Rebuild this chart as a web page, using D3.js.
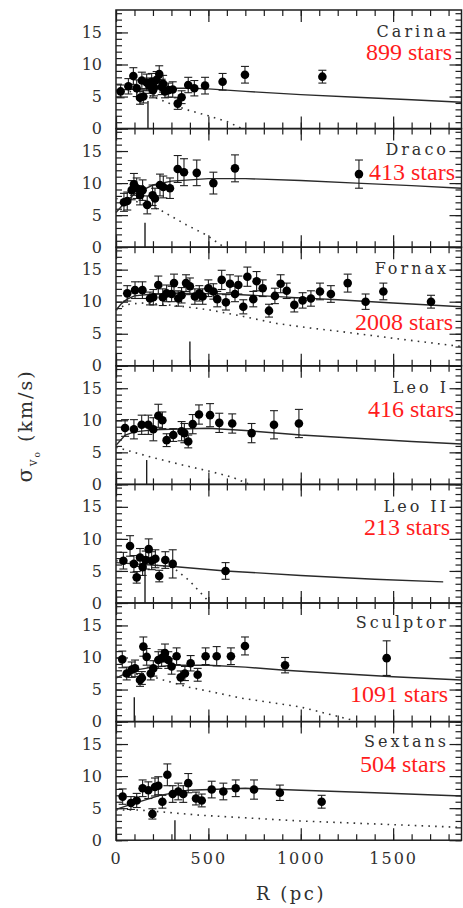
<!DOCTYPE html>
<html><head><meta charset="utf-8">
<script src="https://cdn.jsdelivr.net/npm/d3@7"></script>
<style>html,body{margin:0;padding:0;background:#fff;} svg{display:block;}</style>
</head><body>
<svg id="chart" width="463" height="908"></svg>
<script>
// ---------------- DATA ----------------
const galaxies = ["Carina", "Draco", "Fornax", "Leo I", "Leo II", "Sculptor", "Sextans"];
const starLabels = ["899 stars", "413 stars", "2008 stars", "416 stars", "213 stars", "1091 stars", "504 stars"];
const xTickValues = [0, 500, 1000, 1500];
const yTickValues = [0, 5, 10, 15];

// Carina
const carinaR     = [25, 67, 94, 112, 130, 140, 148, 166, 180, 193, 200, 206, 220, 234, 247, 255, 265, 283, 307, 334, 355, 391, 424, 482, 577, 698, 1117];
const carinaSigma = [5.8, 6.6, 8.2, 6.3, 4.8, 7.5, 5.0, 7.2, 6.7, 7.3, 6.0, 6.4, 7.6, 8.5, 6.5, 7.0, 5.8, 6.0, 6.1, 3.9, 4.9, 6.8, 6.3, 6.7, 7.3, 8.4, 8.1];
const carinaErr   = [1.0, 1.2, 1.3, 1.3, 1.0, 1.3, 1.0, 1.3, 1.2, 1.3, 1.2, 1.3, 1.3, 1.3, 1.2, 1.3, 1.0, 1.1, 1.2, 0.9, 1.0, 1.2, 1.2, 1.3, 1.3, 1.3, 1.0];
const carinaModelR = [0, 200, 400, 500, 700, 1000, 1300, 1600, 1870];
const carinaModelSigma = [6.0, 6.3, 6.3, 6.2, 5.8, 5.3, 4.9, 4.5, 4.1];
const carinaDotR = [0, 100, 200, 300, 400, 500, 600, 675];
const carinaDotSigma = [6.0, 5.7, 5.0, 3.8, 2.8, 2.0, 1.1, 0.1];

// Draco
const dracoR     = [43, 61, 85, 97, 112, 130, 144, 169, 198, 211, 238, 256, 292, 334, 368, 437, 527, 644, 1315];
const dracoSigma = [7.0, 7.2, 8.9, 9.8, 9.2, 8.1, 8.9, 6.6, 8.1, 7.6, 9.7, 9.4, 9.2, 12.2, 11.7, 11.6, 10.0, 12.3, 11.4];
const dracoErr   = [1.4, 1.4, 1.5, 1.7, 1.6, 1.5, 1.6, 1.4, 1.6, 1.6, 1.7, 1.7, 1.6, 2.1, 2.1, 2.0, 1.7, 2.1, 2.2];
const dracoModelR = [0, 50, 100, 200, 300, 500, 700, 1000, 1300, 1600, 1870];
const dracoModelSigma = [5.4, 7.0, 8.3, 9.7, 10.3, 10.7, 10.7, 10.4, 10.0, 9.6, 9.2];
const dracoDotR = [0, 100, 170, 240, 380, 490, 580];
const dracoDotSigma = [7.6, 7.2, 6.6, 5.8, 3.5, 1.9, 0.1];

// Fornax
const fornaxR     = [61, 103, 143, 184, 202, 229, 253, 274, 301, 314, 337, 355, 379, 400, 427, 451, 469, 500, 527, 548, 572, 595, 617, 644, 662, 689, 711, 743, 761, 794, 828, 860, 891, 924, 965, 1010, 1055, 1104, 1163, 1254, 1351, 1447, 1705];
const fornaxSigma = [11.3, 11.8, 11.8, 10.5, 10.7, 12.6, 10.7, 11.3, 11.2, 12.9, 10.5, 11.0, 12.9, 12.4, 10.8, 11.3, 10.8, 12.1, 11.6, 10.4, 13.4, 9.9, 12.8, 11.2, 12.6, 9.2, 13.9, 10.4, 13.2, 12.1, 8.6, 10.9, 12.8, 11.7, 9.5, 10.2, 10.5, 11.6, 11.2, 12.9, 10.0, 11.6, 10.0];
const fornaxErr   = [1.2, 1.3, 1.3, 1.0, 1.2, 1.4, 1.3, 1.3, 1.2, 1.4, 1.2, 1.2, 1.3, 1.3, 1.2, 1.2, 1.2, 1.3, 1.2, 1.2, 1.5, 1.2, 1.4, 1.2, 1.4, 1.1, 1.5, 1.2, 1.5, 1.3, 1.0, 1.2, 1.4, 1.2, 1.1, 1.2, 1.2, 1.3, 1.3, 1.4, 1.2, 1.3, 1.0];
const fornaxModelR = [0, 30, 60, 100, 200, 400, 600, 800, 1000, 1200, 1500, 1870];
const fornaxModelSigma = [8.7, 9.7, 10.4, 10.9, 11.2, 11.3, 11.2, 10.9, 10.6, 10.3, 9.8, 9.2];
const fornaxDotR = [0, 50, 130, 250, 380, 510, 690, 870, 1050, 1200, 1500, 1870];
const fornaxDotSigma = [8.7, 9.5, 9.8, 9.6, 9.2, 8.7, 7.7, 6.6, 5.9, 5.4, 4.3, 3.0];

// Leo I
const leo1R     = [49, 97, 139, 175, 202, 229, 251, 274, 310, 355, 370, 391, 415, 449, 509, 559, 629, 734, 855, 990];
const leo1Sigma = [8.8, 8.6, 9.3, 9.3, 8.6, 10.7, 10.0, 6.9, 7.7, 8.3, 8.0, 6.7, 9.4, 10.9, 10.8, 9.6, 9.5, 8.0, 9.3, 9.5];
const leo1Err   = [1.3, 1.5, 1.5, 1.5, 1.8, 1.8, 1.3, 1.0, 1.0, 1.5, 1.5, 1.0, 1.5, 1.5, 1.8, 1.5, 1.5, 1.5, 2.2, 2.2];
const leo1ModelR = [0, 50, 100, 200, 300, 500, 700, 1000, 1300, 1600, 1870];
const leo1ModelSigma = [6.1, 7.7, 8.2, 8.5, 8.6, 8.75, 8.4, 7.7, 7.2, 6.7, 6.3];
const leo1DotR = [0, 184, 364, 500, 632, 715];
const leo1DotSigma = [5.8, 4.3, 3.0, 2.1, 1.1, 0.1];

// Leo II
const leo2R     = [40, 76, 97, 112, 130, 144, 161, 177, 193, 213, 234, 267, 307, 593];
const leo2Sigma = [6.6, 8.9, 6.1, 4.0, 7.1, 5.6, 6.7, 8.4, 6.6, 6.9, 4.2, 6.7, 6.1, 5.0];
const leo2Err   = [1.3, 1.6, 1.3, 0.9, 1.4, 1.3, 1.4, 1.6, 1.4, 1.4, 0.9, 1.3, 2.2, 1.3];
const leo2ModelR = [0, 310, 593, 1000, 1400, 1771];
const leo2ModelSigma = [6.3, 5.7, 5.0, 4.3, 3.7, 3.3];
const leo2DotR = [0, 150, 310, 400, 490];
const leo2DotSigma = [6.6, 6.2, 5.5, 3.4, 0.6];

// Sculptor
const sculptorR     = [34, 58, 85, 103, 130, 140, 148, 166, 188, 202, 229, 247, 265, 283, 301, 328, 350, 373, 404, 442, 485, 545, 622, 698, 915, 1465];
const sculptorSigma = [9.7, 7.5, 8.1, 8.3, 6.5, 6.8, 11.7, 10.1, 7.5, 8.3, 9.6, 9.9, 10.7, 9.6, 8.6, 10.2, 6.9, 7.5, 9.1, 7.3, 10.2, 10.2, 10.2, 11.8, 8.8, 9.9];
const sculptorErr   = [1.3, 1.0, 1.2, 1.3, 1.0, 1.0, 1.5, 1.3, 1.0, 1.2, 1.3, 1.3, 1.4, 1.3, 1.2, 1.3, 1.0, 1.1, 1.2, 1.0, 1.3, 1.5, 1.3, 1.4, 1.2, 2.7];
const sculptorModelR = [0, 50, 94, 200, 310, 500, 700, 915, 1200, 1500, 1870];
const sculptorModelSigma = [6.8, 7.5, 8.0, 8.5, 8.8, 8.8, 8.5, 8.0, 7.5, 7.0, 6.5];
const sculptorDotR = [0, 100, 180, 256, 389, 509, 689, 996, 1284];
const sculptorDotSigma = [7.0, 7.4, 7.2, 6.5, 5.4, 4.7, 3.6, 2.3, 0.2];

// Sextans
const sextansR     = [36, 81, 112, 144, 175, 197, 211, 229, 251, 278, 307, 337, 364, 391, 433, 464, 518, 581, 648, 747, 887, 1113];
const sextansSigma = [6.8, 5.8, 6.2, 8.1, 7.8, 4.1, 8.3, 8.5, 6.0, 10.2, 7.2, 7.6, 7.2, 8.9, 6.5, 6.2, 7.9, 7.6, 8.1, 7.9, 7.4, 6.0];
const sextansErr   = [1.2, 1.0, 1.1, 1.3, 1.3, 0.8, 1.4, 1.4, 1.0, 1.7, 1.3, 1.3, 1.3, 1.5, 1.0, 1.0, 1.3, 1.3, 1.3, 1.5, 1.2, 1.0];
const sextansModelR = [0, 81, 238, 391, 700, 1000, 1400, 1870];
const sextansModelSigma = [4.8, 5.6, 7.0, 7.8, 8.1, 7.8, 7.4, 6.9];
const sextansDotR = [0, 130, 455, 996, 1870];
const sextansDotSigma = [4.7, 4.7, 3.9, 3.0, 2.0];

// vertical marker lines (R, height)
const markerR = [173, 157, 400, 166, 157, 99, 319];
const markerSigma = [4.3, 3.8, 3.8, 3.8, 5.5, 3.8, 3.1];

// ---------------- LAYOUT ----------------
const left = 116, right = 461.5, top0 = 10, panelH = 118.6;
const nameOffset = [26.5, 26.4, 26.8, 27.3, 27.3, 24.5, 25.7];
const starOffset = [50, 51.4, 82.8, 50.9, 50.6, 98.7, 50];
const starRight = [452, 455, 453, 454, 450, 448, 446];
const ink = "#1e1e1e";
const textInk = "#303030";

const zip = (a, b) => a.map((v, i) => [v, b[i]]);
const panels = [
  {pts: [carinaR, carinaSigma, carinaErr], model: zip(carinaModelR, carinaModelSigma), dark: zip(carinaDotR, carinaDotSigma)},
  {pts: [dracoR, dracoSigma, dracoErr], model: zip(dracoModelR, dracoModelSigma), dark: zip(dracoDotR, dracoDotSigma)},
  {pts: [fornaxR, fornaxSigma, fornaxErr], model: zip(fornaxModelR, fornaxModelSigma), dark: zip(fornaxDotR, fornaxDotSigma)},
  {pts: [leo1R, leo1Sigma, leo1Err], model: zip(leo1ModelR, leo1ModelSigma), dark: zip(leo1DotR, leo1DotSigma)},
  {pts: [leo2R, leo2Sigma, leo2Err], model: zip(leo2ModelR, leo2ModelSigma), dark: zip(leo2DotR, leo2DotSigma)},
  {pts: [sculptorR, sculptorSigma, sculptorErr], model: zip(sculptorModelR, sculptorModelSigma), dark: zip(sculptorDotR, sculptorDotSigma)},
  {pts: [sextansR, sextansSigma, sextansErr], model: zip(sextansModelR, sextansModelSigma), dark: zip(sextansDotR, sextansDotSigma)}
];

const svg = d3.select("#chart");
const x = d3.scaleLinear().domain([0, 1870]).range([left, right]);
const xMinor = d3.range(0, 1870, 100);
const yMinor = d3.range(0, 19, 1);

panels.forEach((p, i) => {
  const top = top0 + i * panelH, bottom = top + panelH;
  const y = d3.scaleLinear().domain([0, 18.5]).range([bottom, top]);
  const g = svg.append("g");

  const styleAxis = sel => {
    sel.select(".domain").remove();
    sel.selectAll("line").attr("stroke", ink).attr("stroke-width", 1.2);
    sel.selectAll("text").attr("fill", textInk).attr("font-family", "DejaVu Serif").attr("font-size", 16);
  };

  // minor ticks
  g.append("g").attr("transform", `translate(0,${bottom})`).call(d3.axisBottom(x).tickValues(xMinor).tickSize(-6).tickFormat("")).call(styleAxis);
  g.append("g").attr("transform", `translate(0,${top})`).call(d3.axisTop(x).tickValues(xMinor).tickSize(-6).tickFormat("")).call(styleAxis);
  g.append("g").attr("transform", `translate(${left},0)`).call(d3.axisLeft(y).tickValues(yMinor).tickSize(-6).tickFormat("")).call(styleAxis);
  g.append("g").attr("transform", `translate(${right},0)`).call(d3.axisRight(y).tickValues(yMinor).tickSize(-6).tickFormat("")).call(styleAxis);

  // major ticks
  const bx = g.append("g").attr("transform", `translate(0,${bottom})`)
    .call(d3.axisBottom(x).tickValues(xTickValues).tickSize(-12).tickPadding(12).tickFormat(i === panels.length - 1 ? d3.format("d") : ""))
    .call(styleAxis);
  bx.selectAll("text").attr("letter-spacing", 2);
  g.append("g").attr("transform", `translate(0,${top})`).call(d3.axisTop(x).tickValues(xTickValues).tickSize(-12).tickFormat("")).call(styleAxis);
  g.append("g").attr("transform", `translate(${left},0)`).call(d3.axisLeft(y).tickValues(yTickValues).tickSize(-12).tickPadding(14)).call(styleAxis);
  g.append("g").attr("transform", `translate(${right},0)`).call(d3.axisRight(y).tickValues(yTickValues).tickSize(-12).tickFormat("")).call(styleAxis);

  // frame
  g.append("rect").attr("x", left).attr("y", top).attr("width", right - left).attr("height", panelH)
    .attr("fill", "none").attr("stroke", ink).attr("stroke-width", 1.5);

  const line = d3.line().x(d => x(d[0])).y(d => y(d[1]));
  // dotted (dark) curve
  g.append("path").attr("d", line(p.dark)).attr("fill", "none").attr("stroke", "#333")
    .attr("stroke-width", 1.6).attr("stroke-dasharray", "1.6,5.2").attr("stroke-linecap", "butt");
  // model curve
  g.append("path").attr("d", line(p.model)).attr("fill", "none").attr("stroke", "#2a2a2a").attr("stroke-width", 1.4);

  // vertical marker
  g.append("line").attr("x1", x(markerR[i])).attr("x2", x(markerR[i]))
    .attr("y1", y(0)).attr("y2", y(markerSigma[i])).attr("stroke", ink).attr("stroke-width", 1.4);

  const [R, S, E] = p.pts;
  const data = R.map((r, k) => ({r, s: S[k], e: E[k]}));
  const eb = g.append("g").attr("stroke", ink).attr("stroke-width", 1.1);
  data.forEach(d => {
    const cx = x(d.r);
    eb.append("line").attr("x1", cx).attr("x2", cx).attr("y1", y(d.s - d.e)).attr("y2", y(d.s + d.e));
    eb.append("line").attr("x1", cx - 4).attr("x2", cx + 4).attr("y1", y(d.s - d.e)).attr("y2", y(d.s - d.e));
    eb.append("line").attr("x1", cx - 4).attr("x2", cx + 4).attr("y1", y(d.s + d.e)).attr("y2", y(d.s + d.e));
  });
  g.append("g").selectAll("circle").data(data).join("circle")
    .attr("cx", d => x(d.r)).attr("cy", d => y(d.s)).attr("r", 4.3).attr("fill", "#000");

  // labels
  g.append("text").attr("x", 449).attr("y", top + nameOffset[i]).attr("text-anchor", "end")
    .attr("font-family", "DejaVu Serif").attr("font-size", 16).attr("letter-spacing", 3).attr("fill", textInk)
    .text(galaxies[i]);
  g.append("text").attr("x", starRight[i]).attr("y", top + starOffset[i]).attr("text-anchor", "end")
    .attr("font-family", "Liberation Serif").attr("font-size", 24).attr("fill", "#ff1c1c")
    .text(starLabels[i]);
});

// axis titles
svg.append("text").attr("x", 291).attr("y", 900).attr("text-anchor", "middle")
  .attr("font-family", "DejaVu Serif").attr("font-size", 18).attr("letter-spacing", 2.5).attr("fill", textInk)
  .text("R (pc)");

const yt = svg.append("text").attr("transform", "translate(32,426) rotate(-90)").attr("text-anchor", "middle")
  .attr("font-family", "DejaVu Serif").attr("font-size", 19).attr("letter-spacing", 2).attr("fill", textInk);
yt.append("tspan").attr("font-size", 21).text("σ");
yt.append("tspan").attr("font-size", 12).attr("dy", 5).text("v");
yt.append("tspan").attr("font-size", 9).attr("dy", 3).text("o");
yt.append("tspan").attr("dy", -8).text(" (km/s)");
</script>
</body></html>
